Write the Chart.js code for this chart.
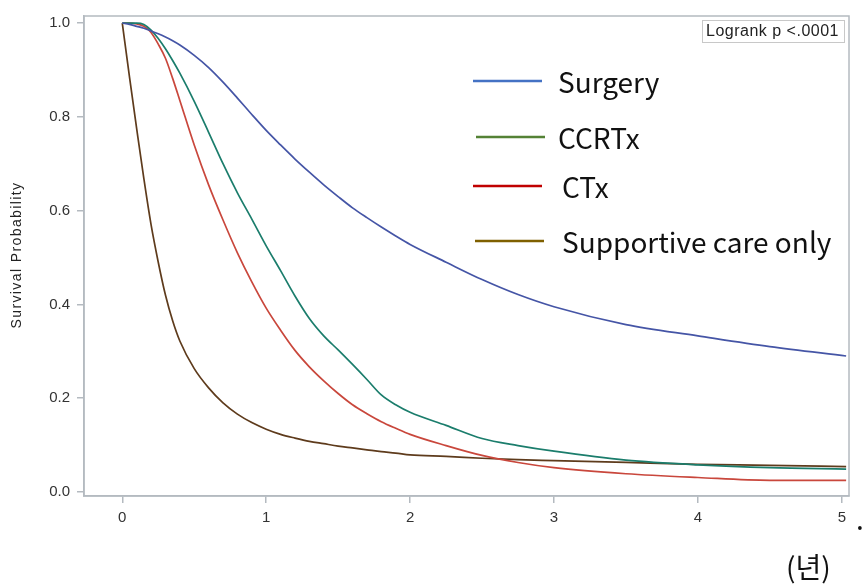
<!DOCTYPE html>
<html>
<head>
<meta charset="utf-8">
<script src="https://cdn.jsdelivr.net/npm/chart.js@4"></script>
<style>
  html, body { margin: 0; padding: 0; background: #fff; }
  #wrap { width: 863px; height: 586px; position: relative; }
</style>
</head>
<body>
<div id="wrap"><canvas id="km-chart" width="863" height="586"></canvas></div>
<script>
// Kaplan-Meier curves (years -> survival probability)
const years      = [0, 0.05, 0.1, 0.15, 0.2, 0.25, 0.3, 0.35, 0.4, 0.5, 0.6, 0.7, 0.8, 0.9, 1.0, 1.1, 1.2, 1.3, 1.4, 1.5, 1.6, 1.7, 1.8, 1.9, 2.0, 2.25, 2.5, 2.75, 3.0, 3.5, 4.0, 4.5, 5.03];
const surgery    = [1, 0.997, 0.993, 0.989, 0.983, 0.977, 0.970, 0.962, 0.953, 0.931, 0.905, 0.874, 0.84, 0.805, 0.771, 0.74, 0.71, 0.682, 0.655, 0.63, 0.606, 0.585, 0.565, 0.546, 0.528, 0.49, 0.453, 0.421, 0.395, 0.357, 0.333, 0.31, 0.29];
const ccrtx      = [1, 1, 1, 0.997, 0.985, 0.967, 0.945, 0.92, 0.893, 0.833, 0.767, 0.70, 0.638, 0.582, 0.525, 0.472, 0.418, 0.37, 0.333, 0.303, 0.272, 0.24, 0.207, 0.186, 0.17, 0.142, 0.114, 0.099, 0.087, 0.068, 0.058, 0.052, 0.049];
const ctx_       = [1, 1, 0.998, 0.993, 0.98, 0.955, 0.925, 0.882, 0.835, 0.74, 0.655, 0.58, 0.51, 0.448, 0.392, 0.345, 0.302, 0.267, 0.237, 0.21, 0.186, 0.167, 0.15, 0.136, 0.123, 0.099, 0.078, 0.063, 0.052, 0.039, 0.031, 0.025, 0.025];
const supportive = [1, 0.885, 0.775, 0.668, 0.57, 0.49, 0.42, 0.365, 0.322, 0.263, 0.222, 0.19, 0.166, 0.148, 0.134, 0.123, 0.115, 0.108, 0.103, 0.098, 0.094, 0.09, 0.086, 0.083, 0.079, 0.076, 0.072, 0.069, 0.067, 0.063, 0.059, 0.057, 0.054];

const seriesNames = ['Surgery', 'CCRTx', 'CTx', 'Supportive care only'];
const lineColors = ['#4555a6', '#1b7d6c', '#c9473c', '#5e3b1c'];
const legendColors = ['#4472c4', '#548235', '#c00000', '#7f6000'];
const xTicks = [0, 1, 2, 3, 4, 5];
const yTicks = [0, 0.2, 0.4, 0.6, 0.8, 1.0];

function toPoints(vals) {
    return years.map((t, i) => ({ x: t, y: vals[i] }));
}

// frame, legend, annotation texts
const extras = {
    id: 'extras',
    afterDraw(chart) {
        const c = chart.ctx;
        const a = chart.chartArea;
        c.save();
        c.strokeStyle = '#b4bac0';
        c.lineWidth = 1.5;
        c.strokeRect(a.left, a.top, a.right - a.left, a.bottom - a.top);

        // logrank box
        c.strokeStyle = '#c8c8c8';
        c.lineWidth = 1;
        c.strokeRect(702.5, 20.5, 142, 22);
        c.fillStyle = '#222';
        c.font = '16px "Liberation Sans", Arial, sans-serif';
        c.letterSpacing = '0.5px';
        c.textBaseline = 'middle';
        c.textAlign = 'left';
        c.fillText('Logrank p <.0001', 706, 32);

        // y axis title
        c.save();
        c.translate(17, 255);
        c.rotate(-Math.PI / 2);
        c.textAlign = 'center';
        c.font = '14px "Liberation Sans", Arial, sans-serif';
        c.letterSpacing = '1.4px';
        c.fillStyle = '#222';
        c.fillText('Survival Probability', 0, 0);
        c.restore();

        // legend
        const rows = [
            { y: 81, x0: 473, x1: 542, tx: 558 },
            { y: 137, x0: 476, x1: 545, tx: 558 },
            { y: 186, x0: 473, x1: 542, tx: 562 },
            { y: 241, x0: 475, x1: 544, tx: 562 }
        ];
        c.letterSpacing = '0px';
        c.font = '28px "Noto Sans CJK KR", "Open Sans", sans-serif';
        rows.forEach((r, i) => {
            c.strokeStyle = legendColors[i];
            c.lineWidth = 2.5;
            c.beginPath();
            c.moveTo(r.x0, r.y);
            c.lineTo(r.x1, r.y);
            c.stroke();
            c.fillStyle = '#111';
            c.fillText(seriesNames[i], r.tx, r.y + 1);
        });

        c.fillText('.', 856, 519);
        c.fillText('(년)', 786, 567);
        c.restore();
    }
};

const chartCanvas = document.getElementById('km-chart');
new Chart(chartCanvas.getContext('2d'), {
    type: 'line',
    data: {
        datasets: [surgery, ccrtx, ctx_, supportive].map((vals, i) => ({
            label: seriesNames[i],
            data: toPoints(vals),
            borderColor: lineColors[i],
            borderWidth: 1.7,
            pointRadius: 0,
            fill: false,
            cubicInterpolationMode: 'monotone'
        }))
    },
    options: {
        responsive: false,
        animation: false,
        layout: { padding: { top: 12, right: 14, left: 0, bottom: 0 } },
        plugins: { legend: { display: false }, tooltip: { enabled: false } },
        scales: {
            x: {
                type: 'linear',
                min: -0.266,
                max: 5.05,
                afterBuildTicks: s => { s.ticks = xTicks.map(v => ({ value: v })); },
                afterFit: s => { s.height = 90; },
                grid: { drawOnChartArea: false, tickLength: 7, color: '#b4bac0', lineWidth: 1.5 },
                border: { color: '#b4bac0', width: 1.5 },
                ticks: {
                    color: '#333',
                    padding: 6,
                    font: { family: '"Liberation Sans", Arial, sans-serif', size: 15 },
                    callback: v => String(v)
                }
            },
            y: {
                type: 'linear',
                min: -0.0085,
                max: 1.015,
                afterBuildTicks: s => { s.ticks = yTicks.map(v => ({ value: v })); },
                afterFit: s => { s.width = 84; },
                grid: { drawOnChartArea: false, tickLength: 7, color: '#b4bac0', lineWidth: 1.5 },
                border: { color: '#b4bac0', width: 1.5 },
                ticks: {
                    color: '#333',
                    padding: 7,
                    font: { family: '"Liberation Sans", Arial, sans-serif', size: 15 },
                    callback: v => v.toFixed(1)
                }
            }
        }
    },
    plugins: [extras]
});
</script>
</body>
</html>
